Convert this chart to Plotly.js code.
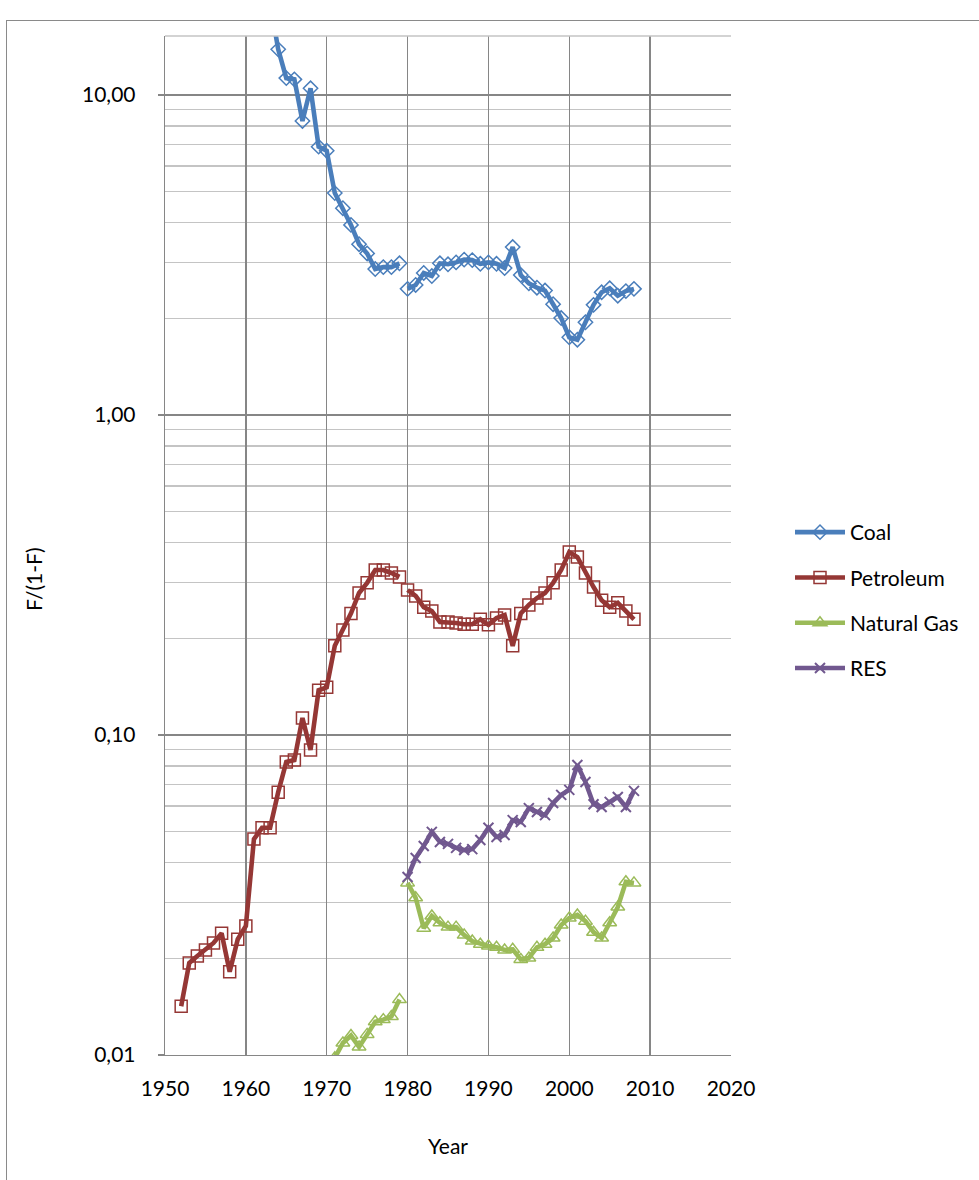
<!DOCTYPE html>
<html>
<head>
<meta charset="utf-8">
<script src="https://cdn.plot.ly/plotly-3.0.1.min.js"></script>
<style>
  html, body { margin:0; padding:0; background:#fff; }
  #frame { position:absolute; left:6px; top:20px; width:2000px; height:2000px;
           border-left:1px solid #8a8a8a; border-top:1px solid #8a8a8a; pointer-events:none; }
  #chart { position:absolute; left:0; top:0; width:979px; height:1180px; }
</style>
</head>
<body>
<div id="chart"></div>
<div id="frame"></div>
<script>
// ---- data ----
const coalYearsA = [1963,1964,1965,1966,1967,1968,1969,1970,1971,1972,1973,1974,1975,1976,1977,1978,1979];
const coalA = [19.5,13.9,11.3,11.2,8.3,10.5,6.9,6.7,4.94,4.43,3.93,3.42,3.2,2.86,2.9,2.9,2.98];

const petYearsA = [1952,1953,1954,1955,1956,1957,1958,1959,1960,1961,1962,1963,1964,1965,1966,1967,1968,1969,1970,1971,1972,1973,1974,1975,1976,1977,1978,1979];
const petA = [0.0142,0.0194,0.0204,0.0213,0.0224,0.024,0.0182,0.023,0.0253,0.0473,0.0513,0.0513,0.0663,0.0824,0.0835,0.113,0.0898,0.138,0.141,0.19,0.213,0.24,0.278,0.299,0.328,0.328,0.321,0.312];

const gasYearsA = [1971,1972,1973,1974,1975,1976,1977,1978,1979];
const gasA = [0.0098,0.0109,0.0115,0.0106,0.0116,0.0127,0.0129,0.0132,0.0149];

const yearsB = [1980,1981,1982,1983,1984,1985,1986,1987,1988,1989,1990,1991,1992,1993,1994,1995,1996,1997,1998,1999,2000,2001,2002,2003,2004,2005,2006,2007,2008];
const coalB = [2.48,2.55,2.78,2.72,2.98,2.96,3.0,3.06,3.05,2.97,3.0,2.97,2.88,3.35,2.74,2.58,2.5,2.45,2.22,2.01,1.75,1.72,1.95,2.21,2.42,2.49,2.36,2.44,2.48];
const petB = [0.284,0.272,0.251,0.244,0.2256,0.2256,0.224,0.222,0.222,0.23,0.221,0.232,0.237,0.19,0.24,0.255,0.268,0.278,0.299,0.328,0.373,0.36,0.321,0.29,0.264,0.251,0.259,0.244,0.23];
const gasB = [0.0345,0.031,0.0249,0.0272,0.0259,0.0251,0.0251,0.0237,0.0227,0.0222,0.0219,0.0217,0.0213,0.0214,0.0199,0.0201,0.0217,0.0222,0.0232,0.0255,0.0268,0.0274,0.0262,0.0242,0.0232,0.0259,0.029,0.0348,0.0345];
const resB = [0.036,0.0413,0.045,0.0498,0.0463,0.0457,0.0444,0.0437,0.044,0.047,0.0513,0.048,0.0487,0.0542,0.0535,0.0591,0.0575,0.0562,0.0613,0.065,0.0674,0.0806,0.0713,0.0608,0.0596,0.0618,0.064,0.0596,0.0669];

const seriesNames = ['Coal','Petroleum','Natural Gas','RES'];
const xTickVals = [1950,1960,1970,1980,1990,2000,2010,2020];
const yTickVals = [0.01,0.1,1,10];
const yTickText = ['0,01','0,10','1,00','10,00'];

// ---- styling ----
const FONT = 'Lato, "Open Sans", sans-serif';
const colors = ['#4A7EBB','#953735','#9BBB59','#71588F'];
const symbols = ['diamond-open','square-open','triangle-up-open','x-thin-open'];
const sizes = [11,12,12,10];

function join(xa, ya, xb, yb) {
  // null break between the two data periods (the reference lines are not joined 1979-1980)
  return { x: xa.concat([null], xb), y: ya.concat([null], yb) };
}
const parts = [
  join(coalYearsA, coalA, yearsB, coalB),
  join(petYearsA, petA, yearsB, petB),
  join(gasYearsA, gasA, yearsB, gasB),
  { x: yearsB, y: resB }
];

const traces = parts.map((p, i) => ({
  type: 'scatter', mode: 'lines+markers', name: seriesNames[i],
  x: p.x, y: p.y, connectgaps: false, legendgroup: 'g' + i,
  line: { color: colors[i], width: 4.6 },
  marker: { symbol: symbols[i], size: sizes[i], color: colors[i],
            line: { color: colors[i], width: i === 3 ? 2 : 1.5 } }
}));

const L = 165, R = 731, T = 36, B = 1055;
const pw = R - L, ph = B - T;

const layout = {
  width: 979, height: 1180,
  margin: { l: L, r: 979 - R, t: T, b: 1180 - B, pad: 0 },
  paper_bgcolor: '#ffffff', plot_bgcolor: '#ffffff',
  font: { family: FONT, size: 21, color: '#000' },
  showlegend: true,
  legend: { x: (790 - L) / pw, xanchor: 'left', y: 1 - (512 - T) / ph, yanchor: 'top',
            font: { family: FONT, size: 21, color: '#000' }, tracegroupgap: 15,
            itemwidth: 50, bgcolor: 'rgba(0,0,0,0)' },
  xaxis: {
    range: [1950, 2020], tickvals: xTickVals, showgrid: true, gridcolor: '#868686', gridwidth: 1.3,
    zeroline: false, showline: true, linecolor: '#868686', linewidth: 1.3, ticks: '',
    ticklabelstandoff: 14, tickfont: { family: FONT, size: 21 }
  },
  yaxis: {
    type: 'log', range: [-2, Math.log10(15.3)], tickvals: yTickVals, ticktext: yTickText,
    showgrid: true, gridcolor: '#868686', gridwidth: 1.3, zeroline: false,
    showline: true, linecolor: '#868686', linewidth: 1.3,
    ticks: 'outside', ticklen: 6, tickcolor: '#868686', tickwidth: 1.3,
    ticklabelstandoff: 18, tickfont: { family: FONT, size: 21 },
    minor: { showgrid: true, gridcolor: '#C4C4C4', gridwidth: 1.3, dtick: 'D1', ticks: '' }
  },
  shapes: [
    { type: 'line', xref: 'paper', yref: 'paper', x0: 0, x1: 1, y0: 1, y1: 1,
      line: { color: '#C4C4C4', width: 1.3 } }
  ],
  annotations: [
    { text: 'F/(1-F)', xref: 'paper', yref: 'paper', x: (33 - L) / pw, y: 1 - (580 - T) / ph,
      xanchor: 'center', yanchor: 'middle', textangle: -90, showarrow: false,
      font: { family: FONT, size: 21, color: '#000' } },
    { text: 'Year', xref: 'paper', yref: 'paper', x: 0.5, y: 1 - (1145 - T) / ph,
      xanchor: 'center', yanchor: 'middle', showarrow: false,
      font: { family: FONT, size: 21, color: '#000' } }
  ]
};

Plotly.newPlot('chart', traces, layout, { displayModeBar: false, staticPlot: true });
</script>
</body>
</html>
